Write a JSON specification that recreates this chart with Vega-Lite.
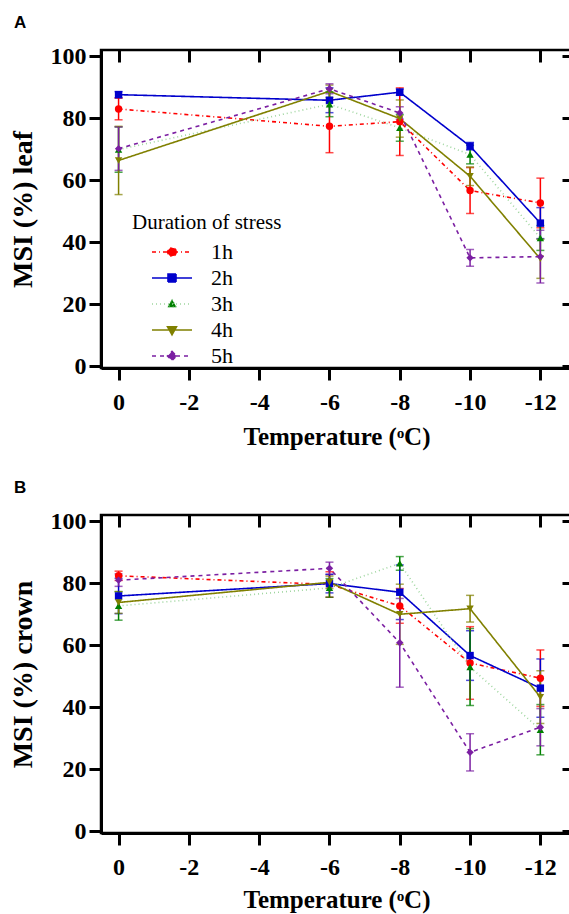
{
  "$schema": "https://vega.github.io/schema/vega-lite/v6.json",
  "background": "white",
  "padding": {"left": 7, "top": 12, "right": 0, "bottom": 0},
  "spacing": 26,
  "config": {
    "font": "Liberation Serif",
    "view": {"stroke": "black", "strokeWidth": 2.5},
    "axis": {
      "grid": false,
      "labelFont": "Liberation Serif",
      "labelFontWeight": "bold",
      "labelFontSize": 24,
      "labelColor": "black",
      "titleFont": "Liberation Serif",
      "titleFontWeight": "bold",
      "titleFontSize": 25,
      "titleColor": "black",
      "domainColor": "black",
      "domainWidth": 3,
      "tickColor": "black",
      "tickWidth": 3,
      "tickSize": 12
    },
    "legend": {
      "titleFont": "Liberation Serif",
      "titleFontSize": 21,
      "titleFontWeight": "normal",
      "titleColor": "black",
      "labelFont": "Liberation Serif",
      "labelFontSize": 22,
      "labelColor": "black"
    },
    "title": {"font": "Liberation Sans", "fontSize": 17, "fontWeight": "bold", "anchor": "start", "frame": "bounds", "color": "black", "offset": 12, "dx": 5}
  },
  "datasets": {
    "leaf": [
      {"dur": "1h", "t": 0, "msi": 83.0, "err": 3.5},
      {"dur": "1h", "t": -6, "msi": 77.4, "err": 8.5},
      {"dur": "1h", "t": -8, "msi": 78.9, "err": 10.9},
      {"dur": "1h", "t": -10, "msi": 56.7, "err": 7.4},
      {"dur": "1h", "t": -12, "msi": 52.7, "err": 8.0},
      {"dur": "2h", "t": 0, "msi": 87.6, "err": 1.0},
      {"dur": "2h", "t": -6, "msi": 85.8, "err": 4.0},
      {"dur": "2h", "t": -8, "msi": 88.4, "err": 1.0},
      {"dur": "2h", "t": -10, "msi": 71.0, "err": 1.2},
      {"dur": "2h", "t": -12, "msi": 46.2, "err": 5.0},
      {"dur": "3h", "t": 0, "msi": 69.9, "err": 7.3},
      {"dur": "3h", "t": -6, "msi": 84.5, "err": 4.0},
      {"dur": "3h", "t": -8, "msi": 76.9, "err": 4.3},
      {"dur": "3h", "t": -10, "msi": 68.3, "err": 3.0},
      {"dur": "3h", "t": -12, "msi": 41.4, "err": 4.0},
      {"dur": "4h", "t": 0, "msi": 66.4, "err": 11.0},
      {"dur": "4h", "t": -6, "msi": 88.7, "err": 2.0},
      {"dur": "4h", "t": -8, "msi": 79.9, "err": 6.0},
      {"dur": "4h", "t": -10, "msi": 61.3, "err": 3.0},
      {"dur": "4h", "t": -12, "msi": 34.7, "err": 6.3},
      {"dur": "5h", "t": 0, "msi": 70.2, "err": 7.0},
      {"dur": "5h", "t": -6, "msi": 89.5, "err": 1.6},
      {"dur": "5h", "t": -8, "msi": 81.7, "err": 2.0},
      {"dur": "5h", "t": -10, "msi": 35.0, "err": 2.7},
      {"dur": "5h", "t": -12, "msi": 35.4, "err": 8.5}
    ],
    "crown": [
      {"dur": "1h", "t": 0, "msi": 82.4, "err": 1.5},
      {"dur": "1h", "t": -6, "msi": 79.6, "err": 4.1},
      {"dur": "1h", "t": -8, "msi": 72.7, "err": 5.6},
      {"dur": "1h", "t": -10, "msi": 54.3, "err": 11.7},
      {"dur": "1h", "t": -12, "msi": 49.4, "err": 9.1},
      {"dur": "2h", "t": 0, "msi": 75.9, "err": 5.7},
      {"dur": "2h", "t": -6, "msi": 79.9, "err": 3.0},
      {"dur": "2h", "t": -8, "msi": 77.1, "err": 8.8},
      {"dur": "2h", "t": -10, "msi": 56.7, "err": 8.0},
      {"dur": "2h", "t": -12, "msi": 46.2, "err": 9.4},
      {"dur": "3h", "t": 0, "msi": 72.7, "err": 4.6},
      {"dur": "3h", "t": -6, "msi": 78.5, "err": 3.0},
      {"dur": "3h", "t": -8, "msi": 86.4, "err": 2.2},
      {"dur": "3h", "t": -10, "msi": 53.0, "err": 12.4},
      {"dur": "3h", "t": -12, "msi": 32.8, "err": 8.1},
      {"dur": "4h", "t": 0, "msi": 73.8, "err": 3.5},
      {"dur": "4h", "t": -6, "msi": 80.3, "err": 2.0},
      {"dur": "4h", "t": -8, "msi": 70.0, "err": 9.7},
      {"dur": "4h", "t": -10, "msi": 71.8, "err": 4.3},
      {"dur": "4h", "t": -12, "msi": 43.3, "err": 8.5},
      {"dur": "5h", "t": 0, "msi": 81.0, "err": 2.0},
      {"dur": "5h", "t": -6, "msi": 84.8, "err": 2.0},
      {"dur": "5h", "t": -8, "msi": 60.8, "err": 14.3},
      {"dur": "5h", "t": -10, "msi": 25.5, "err": 6.0},
      {"dur": "5h", "t": -12, "msi": 33.6, "err": 6.0}
    ]
  },
  "resolve": {"scale": {"color": "independent", "fill": "independent", "shape": "independent", "strokeDash": "independent", "stroke": "independent"}},
  "vconcat": [
    {
      "title": {"text": "A"},
      "width": 471,
      "height": 318,
      "data": {"name": "leaf"},
      "resolve": {"axis": {"x": "independent", "y": "independent"}, "scale": {"fill": "independent", "shape": "independent", "strokeDash": "independent", "stroke": "independent"}},
      "layer": [
        {
          "encoding": {
            "x": {"field": "t", "type": "quantitative", "scale": {"domain": [0.5, -12.9], "nice": false, "zero": false},
              "axis": {"values": [0, -2, -4, -6, -8, -10, -12], "labelExpr": "datum.value + ''", "title": "Temperature (ᵒC)", "labelPadding": 10, "titlePadding": 10}},
            "y": {"field": "msi", "type": "quantitative", "scale": {"domain": [-0.5, 102], "nice": false, "zero": false},
              "axis": {"values": [0, 20, 40, 60, 80, 100], "title": "MSI (%) leaf", "titleFontSize": 28, "labelPadding": 3, "titlePadding": 13}}
          },
          "layer": [
            {
              "mark": {"type": "line", "strokeWidth": 1.6},
              "encoding": {
                "stroke": {"field": "dur", "type": "nominal", "scale": {"range": ["#ff0000", "#0000cc", "#9fd69f", "#808000", "#7b1fa2"]}, "legend": null},
                "strokeDash": {"field": "dur", "type": "nominal", "scale": {"range": [[4, 3, 1, 3], [1, 0], [1, 3], [1, 0], [4, 4]]}, "legend": null}
              }
            },
            {
              "mark": {"type": "errorbar", "ticks": {"size": 8, "thickness": 1.5}, "rule": {"strokeWidth": 1.5}},
              "encoding": {
                "yError": {"field": "err"},
                "color": {"field": "dur", "type": "nominal", "scale": {"range": ["#ff0000", "#0000cc", "#008000", "#808000", "#7b1fa2"]}, "legend": null}
              }
            },
            {
              "mark": {"type": "point", "filled": true, "size": 55, "opacity": 1},
              "encoding": {
                "fill": {"field": "dur", "type": "nominal", "scale": {"range": ["#ff0000", "#0000cc", "#008000", "#808000", "#7b1fa2"]}, "legend": null},
                "shape": {"field": "dur", "type": "nominal", "scale": {"range": ["circle", "square", "triangle-up", "triangle-down", "diamond"]}, "legend": null}
              }
            }
          ]
        },
        {
          "mark": {"type": "point", "filled": true, "opacity": 0},
          "encoding": {
            "x": {"field": "t", "type": "quantitative", "axis": {"orient": "top", "values": [0, -2, -4, -6, -8, -10, -12], "labels": false, "domain": false, "title": null, "tickSize": -12}},
            "y": {"field": "msi", "type": "quantitative", "axis": {"orient": "right", "values": [0, 20, 40, 60, 80, 100], "labels": false, "domain": false, "title": null, "tickSize": -10}},
            "shape": {"field": "dur", "type": "nominal",
              "scale": {"domain": ["1h", "2h", "3h", "4h", "5h"], "range": [
                "M-4,0H4M0.85,0A0.85,0.85,0,1,1,-0.85,0A0.85,0.85,0,1,1,0.85,0Z",
                "M-4,0H4M-0.8,-0.8H0.8V0.8H-0.8Z",
                "M-4,0H4M0,-0.95L0.9,0.65H-0.9Z",
                "M-4,0H4M0,0.95L0.9,-0.65H-0.9Z",
                "M-4,0H4M0,-0.9L0.9,0L0,0.9L-0.9,0Z"]},
              "legend": {
                "title": "Duration of stress",
                "orient": "none",
                "legendX": 31,
                "legendY": 162,
                "titleFont": "Liberation Serif",
                "titleFontSize": 21,
                "titleFontWeight": "normal",
                "titleColor": "black",
                "titlePadding": 8,
                "labelFont": "Liberation Serif",
                "labelFontSize": 22,
                "labelColor": "black",
                "symbolSize": 100,
                "symbolOffset": 29,
                "labelOffset": 28,
                "symbolOpacity": 1,
                "symbolStrokeWidth": 1.6,
                "rowPadding": 4
              }
            },
            "fill": {"field": "dur", "type": "nominal", "scale": {"domain": ["1h", "2h", "3h", "4h", "5h"], "range": ["#ff0000", "#0000cc", "#008000", "#808000", "#7b1fa2"]}, "legend": {"title": "Duration of stress", "titleFont": "Liberation Serif", "labelFont": "Liberation Serif"}},
            "stroke": {"field": "dur", "type": "nominal", "scale": {"domain": ["1h", "2h", "3h", "4h", "5h"], "range": ["#ff0000", "#0000cc", "#9fd69f", "#808000", "#7b1fa2"]}, "legend": {"title": "Duration of stress", "titleFont": "Liberation Serif", "labelFont": "Liberation Serif"}},
            "strokeDash": {"field": "dur", "type": "nominal", "scale": {"domain": ["1h", "2h", "3h", "4h", "5h"], "range": [[4, 3, 1, 3], [1, 0], [1, 3], [1, 0], [4, 4]]}, "legend": {"title": "Duration of stress", "titleFont": "Liberation Serif", "labelFont": "Liberation Serif"}}
          }
        }
      ]
    },
    {
      "title": {"text": "B"},
      "width": 471,
      "height": 318,
      "data": {"name": "crown"},
      "resolve": {"axis": {"x": "independent", "y": "independent"}},
      "layer": [
        {
          "encoding": {
            "x": {"field": "t", "type": "quantitative", "scale": {"domain": [0.5, -12.9], "nice": false, "zero": false},
              "axis": {"values": [0, -2, -4, -6, -8, -10, -12], "labelExpr": "datum.value + ''", "title": "Temperature (ᵒC)", "labelPadding": 10, "titlePadding": 8}},
            "y": {"field": "msi", "type": "quantitative", "scale": {"domain": [-0.5, 102], "nice": false, "zero": false},
              "axis": {"values": [0, 20, 40, 60, 80, 100], "title": "MSI (%) crown", "titleFontSize": 28, "labelPadding": 3, "titlePadding": 13}}
          },
          "layer": [
            {
              "mark": {"type": "line", "strokeWidth": 1.6},
              "encoding": {
                "stroke": {"field": "dur", "type": "nominal", "scale": {"range": ["#ff0000", "#0000cc", "#9fd69f", "#808000", "#7b1fa2"]}, "legend": null},
                "strokeDash": {"field": "dur", "type": "nominal", "scale": {"range": [[4, 3, 1, 3], [1, 0], [1, 3], [1, 0], [4, 4]]}, "legend": null}
              }
            },
            {
              "mark": {"type": "errorbar", "ticks": {"size": 8, "thickness": 1.5}, "rule": {"strokeWidth": 1.5}},
              "encoding": {
                "yError": {"field": "err"},
                "color": {"field": "dur", "type": "nominal", "scale": {"range": ["#ff0000", "#0000cc", "#008000", "#808000", "#7b1fa2"]}, "legend": null}
              }
            },
            {
              "mark": {"type": "point", "filled": true, "size": 55, "opacity": 1},
              "encoding": {
                "fill": {"field": "dur", "type": "nominal", "scale": {"range": ["#ff0000", "#0000cc", "#008000", "#808000", "#7b1fa2"]}, "legend": null},
                "shape": {"field": "dur", "type": "nominal", "scale": {"range": ["circle", "square", "triangle-up", "triangle-down", "diamond"]}, "legend": null}
              }
            }
          ]
        },
        {
          "mark": {"type": "point", "opacity": 0},
          "encoding": {
            "x": {"field": "t", "type": "quantitative", "axis": {"orient": "top", "values": [0, -2, -4, -6, -8, -10, -12], "labels": false, "domain": false, "title": null, "tickSize": -12}},
            "y": {"field": "msi", "type": "quantitative", "axis": {"orient": "right", "values": [0, 20, 40, 60, 80, 100], "labels": false, "domain": false, "title": null, "tickSize": -10}}
          }
        }
      ]
    }
  ]
}
